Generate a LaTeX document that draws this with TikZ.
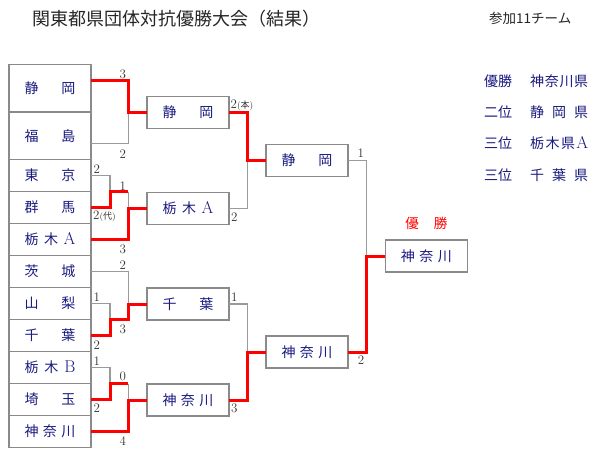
\documentclass[tikz,border=0pt]{standalone}
\usepackage{fontspec}
\usepackage{xcolor}
\usepackage{tikz}
\usetikzlibrary{positioning}
\newfontfamily\jp{Noto Sans CJK JP}
\definecolor{teamblue}{HTML}{1A1A80}
\definecolor{boxgray}{HTML}{8A8A8A}
\definecolor{linegray}{HTML}{9A9A9A}
\definecolor{winred}{HTML}{FF0000}
\definecolor{scoregray}{HTML}{333333}
\newcommand{\tname}[1]{\makebox[51pt][s]{#1}}
\newcommand{\rname}[1]{\makebox[58pt][s]{#1}}
\newcommand{\latin}[1]{{\rmfamily\fontsize{17}{17}\selectfont #1}}
\tikzset{
	team/.style={draw=boxgray, line width=1.3pt, fill=white, minimum width=82pt,
		minimum height=32pt, inner sep=0pt, outer sep=0pt, text=teamblue,
		font=\jp\fontsize{14}{14}\selectfont},
	lose/.style={draw=linegray, line width=1.2pt},
	win/.style={draw=winred, line width=3pt},
	score/.style={text=scoregray, font=\fontsize{13}{13}\selectfont, inner sep=0pt},
	rank/.style={text=teamblue, font=\jp\fontsize{14}{14}\selectfont, inner sep=0pt, anchor=west},
}

\begin{document}
\begin{tikzpicture}[x=1pt, y=-1pt]
	\fill[white] (0,0) rectangle (600,460);
	\useasboundingbox (0,0) rectangle (600,460);

	% heading
	\node[anchor=west, inner sep=0pt, text=black!85, font=\jp\fontsize{18}{18}\selectfont] (title) at (32,19)
	{関東都県団体対抗優勝大会（結果）};
	\node[anchor=west, inner sep=0pt, text=black!85, font=\jp\fontsize{13.5}{13.5}\selectfont] (count) at (489,18)
	{参加11チーム};

	% first column
	\node[team, minimum height=47.5pt] (shz) at (50,88.25) {\tname{静\hfil 岡}};
	\node[team, minimum height=47.5pt, below=0pt of shz] (fks) {\tname{福\hfil 島}};
	\node[team, below=0pt of fks] (tky) {\tname{東\hfil 京}};
	\node[team, below=0pt of tky] (gnm) {\tname{群\hfil 馬}};
	\node[team, below=0pt of gnm] (tcA) {\tname{栃\hfil 木\hfil \latin{A}}};
	\node[team, below=0pt of tcA] (ibr) {\tname{茨\hfil 城}};
	\node[team, below=0pt of ibr] (ymn) {\tname{山\hfil 梨}};
	\node[team, below=0pt of ymn] (chb) {\tname{千\hfil 葉}};
	\node[team, below=0pt of chb] (tcB) {\tname{栃\hfil 木\hfil \latin{B}}};
	\node[team, below=0pt of tcB] (stm) {\tname{埼\hfil 玉}};
	\node[team, below=0pt of stm] (kng) {\tname{神\hfil 奈\hfil 川}};

	% later rounds
	\node[team] (r2shz) at (188,112.5) {\tname{静\hfil 岡}};
	\node[team] (r2tcA) at (188,208.5) {\tname{栃\hfil 木\hfil \latin{A}}};
	\node[team] (r2chb) at (188,304) {\tname{千\hfil 葉}};
	\node[team] (r2kng) at (188,400) {\tname{神\hfil 奈\hfil 川}};
	\node[team] (r3shz) at (307,160.5) {\tname{静\hfil 岡}};
	\node[team] (r3kng) at (307,352) {\tname{神\hfil 奈\hfil 川}};
	\node[team] (champ) at (426.3,256) {\tname{神\hfil 奈\hfil 川}};
	\node[inner sep=0pt, text=winred, font=\jp\fontsize{13.5}{13.5}\selectfont, above=10pt of champ] (wlabel)
	{\makebox[42pt][s]{優\hfil 勝}};

	% bracket columns
	\coordinate (xa) at (110,0);
	\coordinate (xb) at (128.3,0);
	\coordinate (xc) at (247.3,0);
	\coordinate (xd) at (366.7,0);

	% losing lines
	\draw[lose] ([yshift=-8pt]fks.east) -| (r2shz.west -| xb);
	\draw[lose] (tky.east) -| (gnm.north -| xa);
	\draw[lose] (gnm.north -| xb) -- (r2tcA.west -| xb);
	\draw[lose] (ymn.east) -| (chb.north -| xa);
	\draw[lose] (ibr.east) -| (r2chb.west -| xb);
	\draw[lose] (tcB.east) -| (stm.north -| xa);
	\draw[lose] (stm.north -| xb) -- (r2kng.west -| xb);
	\draw[lose] (r2tcA.east) -| (r3shz.west -| xc);
	\draw[lose] (r2chb.east) -| (r3kng.west -| xc);
	\draw[lose] (r3shz.east) -| (champ.west -| xd);

	% winning lines
	\draw[win] ([yshift=8pt]shz.east) -| (r2shz.west -| xb) -- (r2shz.west);
	\draw[win] (gnm.east) -| (gnm.north -| xa) -- (gnm.north -| xb);
	\draw[win] (tcA.east) -| (r2tcA.west -| xb) -- (r2tcA.west);
	\draw[win] (chb.east) -| (chb.north -| xa) -- (chb.north -| xb) -- (r2chb.west -| xb) -- (r2chb.west);
	\draw[win] (stm.east) -| (stm.north -| xa) -- (stm.north -| xb);
	\draw[win] (kng.east) -| (r2kng.west -| xb) -- (r2kng.west);
	\draw[win] (r2shz.east) -| (r3shz.west -| xc) -- (r3shz.west);
	\draw[win] (r2kng.east) -| (r3kng.west -| xc) -- (r3kng.west);
	\draw[win] (r3kng.east) -| (champ.west -| xd) -- (champ.west);

	% scores
	\node[score] (s1) at (122.7,74) {3};
	\node[score] (s2) at (122.7,154) {2};
	\node[score] (s3) at (96.7,169) {2};
	\node[score] (s4) at (122.7,185.7) {1};
	\node[score, anchor=west] (s5) at (93,216.7) {2{\fontsize{9}{9}\selectfont(\jp 代\rmfamily)}};
	\node[score] (s6) at (122.7,249) {3};
	\node[score] (s7) at (122.7,265) {2};
	\node[score] (s8) at (96.7,296.7) {1};
	\node[score] (s9) at (122.7,329) {3};
	\node[score] (s10) at (96.7,345) {2};
	\node[score] (s11) at (96.7,361) {1};
	\node[score] (s12) at (122.7,376.7) {0};
	\node[score] (s13) at (96.7,408) {2};
	\node[score] (s14) at (122.7,440.7) {4};
	\node[score, anchor=west] (s15) at (230.5,105) {2{\fontsize{9}{9}\selectfont(\jp 本\rmfamily)}};
	\node[score] (s16) at (234.3,216.7) {2};
	\node[score] (s17) at (234.3,296.7) {1};
	\node[score] (s18) at (234.3,408.3) {3};
	\node[score] (s19) at (360.7,152.7) {1};
	\node[score] (s20) at (361,360) {2};

	% final standings
	\node[rank] (p1) at (484,81) {優勝};
	\node[rank] (n1) at (530,81) {\rname{神\hfil 奈\hfil 川\hfil 県}};
	\node[rank] (p2) at (484,112) {二位};
	\node[rank] (n2) at (530,112) {\rname{静\hfil 岡\hfil 県}};
	\node[rank] (p3) at (484,143.5) {三位};
	\node[rank] (n3) at (530,143.5) {\rname{栃\hfil 木\hfil 県\hfil \latin{A}}};
	\node[rank] (p4) at (484,175) {三位};
	\node[rank] (n4) at (530,175) {\rname{千\hfil 葉\hfil 県}};
\end{tikzpicture}
\end{document}
